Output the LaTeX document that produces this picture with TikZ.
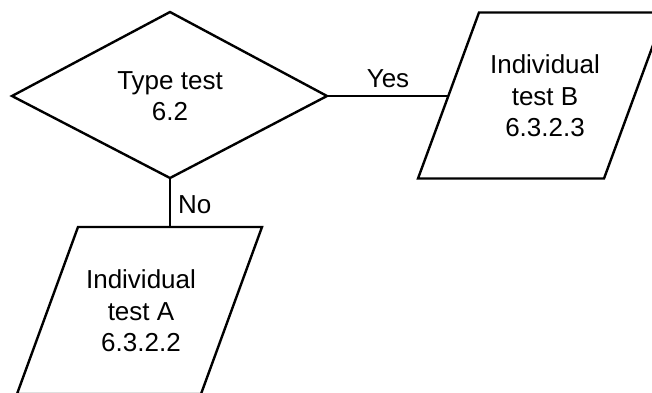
\documentclass[tikz,border=0pt]{standalone}
\usepackage{fontspec}
\setmainfont{Liberation Sans}
\begin{document}
\begin{tikzpicture}[x=1pt,y=-1pt,
  every node/.style={font=\fontsize{26}{31.5}\selectfont},
  line/.style={line width=2.4pt},
  shapeline/.style={line width=2.4pt,line join=miter},
  txt/.style={inner sep=0pt,align=center},
  lbl/.style={inner sep=0pt}]
\useasboundingbox (0,0) rectangle (652,392);
\clip (0,0) rectangle (652,392);
\fill[white] (0,0) rectangle (652,392);
% decision diamond
\coordinate (dW) at (12,96);
\coordinate (dN) at (170,12);
\coordinate (dE) at (327,96);
\coordinate (dS) at (170,178);
\draw[shapeline] (dW) -- (dN) -- (dE) -- (dS) -- cycle;
\node[txt] (type) at (170,96) {Type test\\6.2};
% parallelogram B
\coordinate (bSW) at (418,178.5);
\coordinate (bNW) at (479,12.5);
\coordinate (bNE) at (665,12.5);
\coordinate (bSE) at (604,178.5);
\coordinate (bW) at (448.5,96);
\draw[shapeline] (bSW) -- (bNW) -- (bNE) -- (bSE) -- cycle;
\node[txt] (b) at (545,96) {Individual\\test B\\6.3.2.3};
% parallelogram A
\coordinate (aNW) at (78,227);
\coordinate (aNE) at (262,227);
\coordinate (aSE) at (201,394);
\coordinate (aSW) at (17,394);
\coordinate (aN) at (170,227);
\draw[shapeline] (aNW) -- (aNE) -- (aSE) -- (aSW) -- cycle;
\node[txt] (a) at (141,311) {Individual\\test A\\6.3.2.2};
% connectors
\draw[line] (dE) -- (bW);
\draw[line] (dS) -- (aN);
\node[lbl,anchor=base] (yes) at (388,87) {Yes};
\node[lbl,anchor=base west] (no) at (178,213) {No};
\end{tikzpicture}
\end{document}
